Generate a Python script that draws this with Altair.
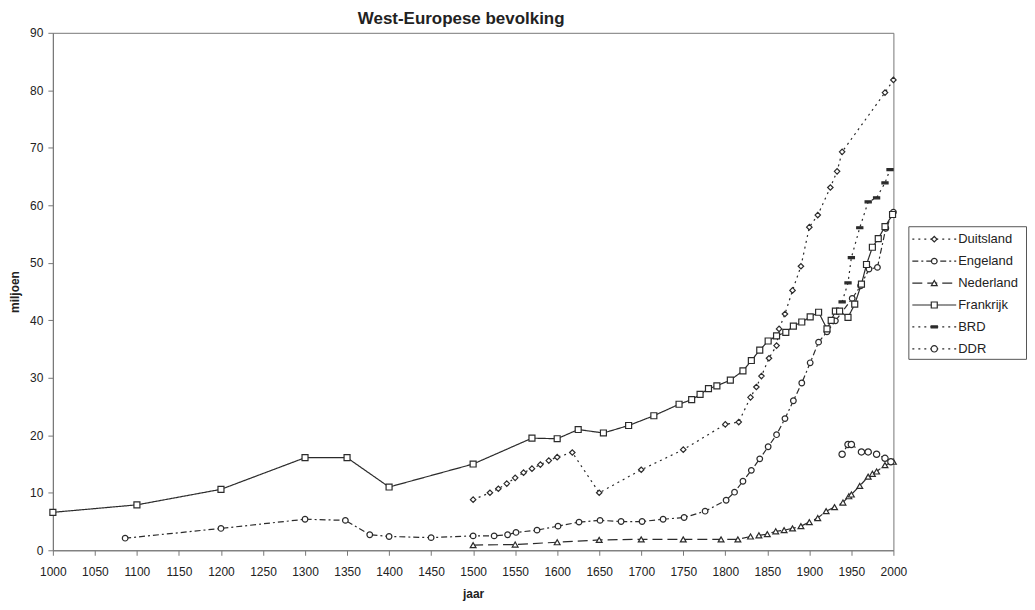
import altair as alt
import pandas as pd

series_names = ["Duitsland", "Engeland", "Nederland", "Frankrijk", "BRD", "DDR"]

de_years = [1500, 1520, 1530, 1540, 1550, 1560, 1570, 1580, 1590, 1600, 1618, 1650, 1700, 1750,
            1800, 1816, 1830, 1837, 1843, 1852, 1861, 1864, 1871, 1880, 1890, 1900, 1910, 1925,
            1933, 1939, 1990, 2000]
de_values = [8.8, 10.0, 10.7, 11.6, 12.6, 13.5, 14.2, 14.9, 15.6, 16.2, 17.0, 10.0, 14.0, 17.5,
             21.9, 22.3, 26.6, 28.4, 30.3, 33.4, 35.6, 38.5, 41.1, 45.2, 49.4, 56.2, 58.3, 63.1,
             65.9, 69.3, 79.6, 81.8]

en_years = [1086, 1200, 1300, 1348, 1377, 1400, 1450, 1500, 1525, 1541, 1551, 1576, 1601, 1626,
            1651, 1676, 1701, 1726, 1751, 1776, 1801, 1811, 1821, 1831, 1841, 1851, 1861, 1871,
            1881, 1891, 1901, 1911, 1921, 1931, 1951, 1961, 1971, 1981, 1991, 2000]
en_values = [2.1, 3.8, 5.4, 5.2, 2.7, 2.4, 2.2, 2.5, 2.5, 2.7, 3.1, 3.5, 4.2, 4.9,
             5.2, 5.0, 5.0, 5.4, 5.7, 6.8, 8.7, 10.1, 12.0, 13.9, 15.9, 18.0, 20.1, 22.9,
             26.0, 29.1, 32.6, 36.2, 38.0, 39.9, 43.8, 46.0, 48.9, 49.2, 56.0, 58.8]

nl_years = [1500, 1550, 1600, 1650, 1700, 1750, 1795, 1815, 1830, 1840, 1850, 1860, 1870, 1880,
            1890, 1900, 1910, 1920, 1930, 1940, 1947, 1950, 1960, 1970, 1975, 1980, 1990, 2000]
nl_values = [0.9, 1.0, 1.4, 1.8, 1.9, 1.9, 1.9, 1.9, 2.4, 2.6, 2.8, 3.3, 3.5, 3.8,
             4.2, 4.9, 5.6, 6.8, 7.5, 8.3, 9.4, 9.7, 11.2, 12.8, 13.3, 13.7, 14.8, 15.4]

fr_years = [1000, 1100, 1200, 1300, 1350, 1400, 1500, 1570, 1600, 1625, 1655, 1685, 1715, 1745,
            1760, 1770, 1780, 1790, 1806, 1821, 1831, 1841, 1851, 1861, 1872, 1881, 1891, 1901,
            1911, 1921, 1926, 1931, 1936, 1946, 1954, 1962, 1968, 1975, 1982, 1990, 1999]
fr_values = [6.6, 7.9, 10.6, 16.1, 16.1, 11.0, 15.0, 19.5, 19.4, 21.0, 20.4, 21.7, 23.4, 25.4,
             26.2, 27.1, 28.1, 28.6, 29.6, 31.2, 33.0, 34.8, 36.4, 37.3, 37.9, 39.0, 39.7, 40.6,
             41.4, 38.5, 40.0, 41.6, 41.6, 40.5, 42.8, 46.3, 49.7, 52.7, 54.2, 56.3, 58.4]

brd_years = [1939, 1946, 1950, 1960, 1970, 1980, 1990, 1996]
brd_values = [43.2, 46.5, 50.9, 56.1, 60.6, 61.3, 63.9, 66.2]

ddr_years = [1939, 1946, 1950, 1962, 1970, 1980, 1990, 1997]
ddr_values = [16.7, 18.4, 18.4, 17.1, 17.1, 16.7, 16.0, 15.4]

x_ticks = list(range(1000, 2001, 50))
y_ticks = list(range(0, 91, 10))

rows = []
for name, ys, vs in [("Duitsland", de_years, de_values), ("Engeland", en_years, en_values),
                     ("Nederland", nl_years, nl_values), ("Frankrijk", fr_years, fr_values),
                     ("BRD", brd_years, brd_values), ("DDR", ddr_years, ddr_values)]:
    for yr, v in zip(ys, vs):
        rows.append({"serie": name, "jaar": yr, "miljoen": v})
df = pd.DataFrame(rows)

FONT = "Liberation Sans"
INK = "#2b2b2b"

dash_scale = alt.Scale(domain=series_names,
                       range=[[2, 4], [6, 3, 2, 3], [10, 5], [1, 0], [2, 4], [2, 4]])
shape_scale = alt.Scale(domain=series_names,
                        range=["diamond", "circle", "triangle-up", "square",
                               "M-1,-0.32L1,-0.32L1,0.32L-1,0.32Z", "circle"])
size_scale = alt.Scale(domain=series_names, range=[30, 40, 42, 55, 64, 40])
fill_scale = alt.Scale(domain=series_names,
                       range=["white", "white", "white", "white", INK, "white"])

x_enc = alt.X("jaar:Q",
              scale=alt.Scale(domain=[1000, 2000], nice=False, zero=False),
              axis=alt.Axis(values=x_ticks, format="d", title="jaar", grid=False,
                            tickSize=5, labelPadding=11, titlePadding=11,
                            labelFontSize=12, titleFontSize=12, titleFontWeight="bold",
                            labelFont=FONT, titleFont=FONT, labelColor="#222",
                            titleColor="#222", domainColor="#777", tickColor="#777",
                            labelFlush=False))
y_enc = alt.Y("miljoen:Q",
              scale=alt.Scale(domain=[0, 90], nice=False),
              axis=alt.Axis(values=y_ticks, title="miljoen", grid=False,
                            tickSize=5, labelPadding=5, titlePadding=8,
                            labelFontSize=12, titleFontSize=12, titleFontWeight="bold",
                            labelFont=FONT, titleFont=FONT, labelColor="#222",
                            titleColor="#222", domainColor="#777", tickColor="#777"))

lines = alt.Chart(df).mark_line(strokeWidth=1.2, color=INK).encode(
    x=x_enc, y=y_enc, detail="serie:N",
    strokeDash=alt.StrokeDash("serie:N", scale=dash_scale, legend=None),
)
points = alt.Chart(df).mark_point(filled=True, stroke=INK, strokeWidth=1.2, opacity=1).encode(
    x=x_enc, y=y_enc,
    shape=alt.Shape("serie:N", scale=shape_scale, legend=None),
    size=alt.Size("serie:N", scale=size_scale, legend=None),
    fill=alt.Fill("serie:N", scale=fill_scale, legend=None),
)

main = alt.layer(lines, points).properties(
    width=843, height=519,
    title=alt.TitleParams("West-Europese bevolking", font=FONT, fontSize=17,
                          fontWeight="bold", color="#222", offset=-1, dx=-12,
                          frame="group"),
    view=alt.ViewBackground(stroke="#777", strokeWidth=1),
)

# legend panel
leg_df = pd.DataFrame({"serie": series_names})
lx = alt.Scale(domain=[0, 118], nice=False, zero=False)
ly = alt.Y("serie:N",
           scale=alt.Scale(type="point", domain=series_names, range=[13, 123], padding=0),
           axis=None)

leg_lines = alt.Chart(leg_df).mark_rule(strokeWidth=1.2, color=INK).encode(
    x=alt.XDatum(4, scale=lx, axis=None), x2=alt.X2Datum(48), y=ly,
    strokeDash=alt.StrokeDash("serie:N", scale=dash_scale, legend=None),
)
leg_points = alt.Chart(leg_df).mark_point(filled=True, stroke=INK, strokeWidth=1.2, opacity=1).encode(
    x=alt.XDatum(26, scale=lx, axis=None), y=ly,
    shape=alt.Shape("serie:N", scale=shape_scale, legend=None),
    size=alt.Size("serie:N", scale=size_scale, legend=None),
    fill=alt.Fill("serie:N", scale=fill_scale, legend=None),
)
leg_text = alt.Chart(leg_df).mark_text(align="left", baseline="middle", font=FONT,
                                       fontSize=13, color="#222").encode(
    x=alt.XDatum(50, scale=lx, axis=None), y=ly, text="serie:N",
)
legend = alt.layer(leg_lines, leg_points, leg_text).properties(
    width=118, height=133,
    view=alt.ViewBackground(stroke="#555", strokeWidth=1),
)
spacer = alt.Chart(leg_df).mark_point(opacity=0).properties(width=118, height=193)

legend_col = alt.vconcat(spacer, legend, spacing=0)

chart = alt.hconcat(main, legend_col, spacing=0).properties(
    padding={"left": 0, "top": 0, "right": 0, "bottom": 0}
).configure_view(stroke=None).configure(background="white")

chart.save("out.html", embed_options={"renderer": "svg", "actions": False})
